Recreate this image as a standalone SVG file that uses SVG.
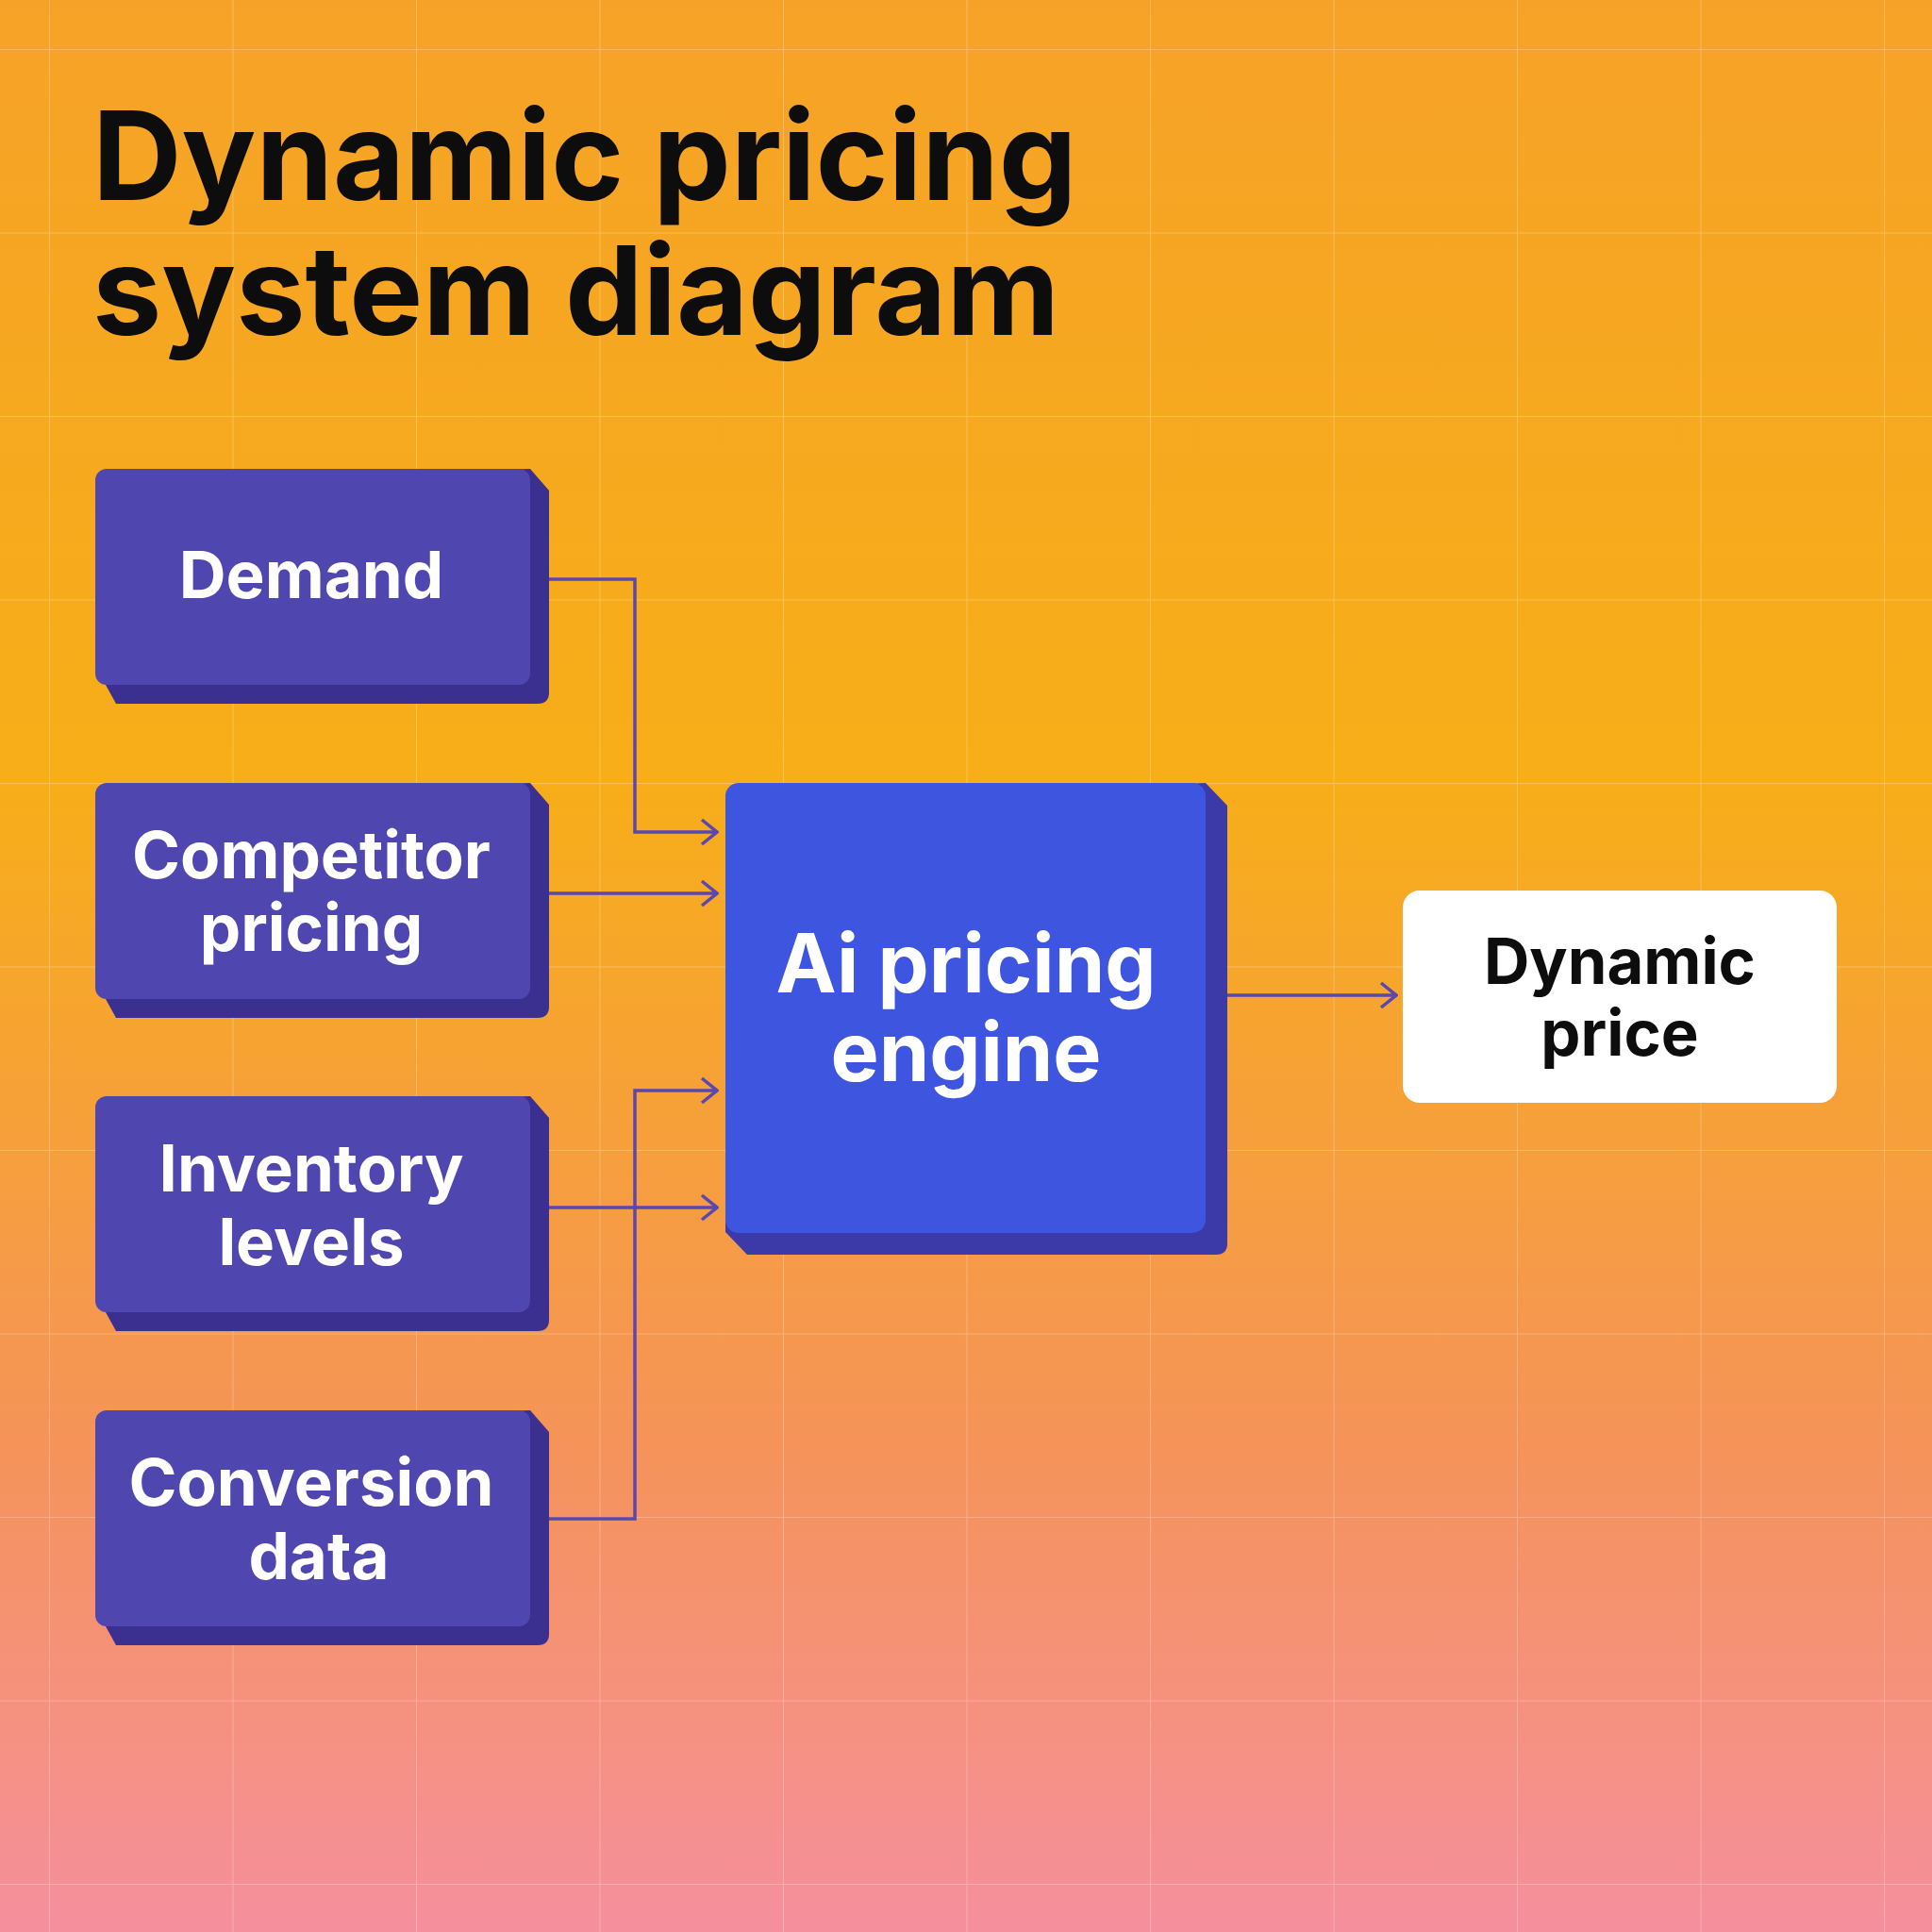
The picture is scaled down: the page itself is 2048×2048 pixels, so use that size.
<svg xmlns="http://www.w3.org/2000/svg" width="2048" height="2048" viewBox="0 0 2048 2048">
<defs>
<linearGradient id="bg" x1="0" y1="0" x2="0" y2="1">
<stop offset="0" stop-color="#f6a228"/>
<stop offset="0.4" stop-color="#f7ae18"/>
<stop offset="0.75" stop-color="#f5935a"/>
<stop offset="1" stop-color="#f58f9e"/>
</linearGradient>
<pattern id="grid" width="194.5" height="194.5" patternUnits="userSpaceOnUse" x="52" y="52">
<path d="M0 0H194.5M0 0V194.5" fill="none" stroke="#ffffff" stroke-opacity="0.25" stroke-width="2"/>
</pattern>
<marker id="arr" viewBox="0 0 20 30" refX="18" refY="15" markerWidth="20" markerHeight="30" markerUnits="userSpaceOnUse" orient="auto">
<path d="M2 2L18 15L2 28" fill="none" stroke="#5a47b0" stroke-width="3.5"/>
</marker>
<style>
.depth{fill:#3b2f8f}
.front{fill:#5046b0}
.lbl{font-family:Inter,"Liberation Sans",sans-serif;font-weight:700;fill:#fff;font-size:69px;text-anchor:middle}
.con{fill:none;stroke:#5a47b0;stroke-width:3.5}
</style>
</defs>
<rect width="2048" height="2048" fill="url(#bg)"/>
<rect width="2048" height="2048" fill="url(#grid)"/>
<text font-family="Inter,'Liberation Sans',sans-serif" font-weight="700" font-size="131" fill="#0d0d0d"><tspan x="98" y="212">Dynamic pricing</tspan><tspan x="98" y="355">system diagram</tspan></text>
<g id="connectors">
<path class="con" d="M562 614H673V882H760" marker-end="url(#arr)"/>
<path class="con" d="M562 947H760" marker-end="url(#arr)"/>
<path class="con" d="M562 1610H673V1156H760" marker-end="url(#arr)"/>
<path class="con" d="M562 1280H760" marker-end="url(#arr)"/>
<path class="con" d="M1277 1055H1480" marker-end="url(#arr)"/>
</g>
<g id="demand"><path class="depth" d="M101 509V706L123 746H570Q582 746 582 734V520L562 497Z"/><rect class="front" x="101" y="497" width="461" height="229" rx="12"/><text class="lbl" x="330" y="634">Demand</text></g>
<g id="competitor"><path class="depth" d="M101 842V1039L123 1079H570Q582 1079 582 1067V853L562 830Z"/><rect class="front" x="101" y="830" width="461" height="229" rx="12"/><text class="lbl" x="330" y="931">Competitor</text><text class="lbl" x="330" y="1008">pricing</text></g>
<g id="inventory"><path class="depth" d="M101 1174V1371L123 1411H570Q582 1411 582 1399V1185L562 1162Z"/><rect class="front" x="101" y="1162" width="461" height="229" rx="12"/><text class="lbl" x="330" y="1263">Inventory</text><text class="lbl" x="330" y="1341">levels</text></g>
<g id="conversion"><path class="depth" d="M101 1507V1704L123 1744H570Q582 1744 582 1732V1518L562 1495Z"/><rect class="front" x="101" y="1495" width="461" height="229" rx="12"/><text class="lbl" x="330" y="1596">Conversion</text><text class="lbl" x="338" y="1674">data</text></g>
<g id="engine"><path d="M769 842V1306L792 1330H1289Q1301 1330 1301 1318V854L1278 830Z" fill="#3c39a8"/><rect x="769" y="830" width="509" height="477" rx="14" fill="#3d55df"/><text class="lbl" x="1024" y="1052" style="font-size:86px">Ai pricing</text><text class="lbl" x="1024" y="1146" style="font-size:86px">engine</text></g>
<g id="output"><rect x="1487" y="944" width="460" height="225" rx="18" fill="#fff"/><text class="lbl" x="1717" y="1043" style="fill:#0d0d0d;font-size:67px">Dynamic</text><text class="lbl" x="1717" y="1119" style="fill:#0d0d0d;font-size:67px">price</text></g>
</svg>
